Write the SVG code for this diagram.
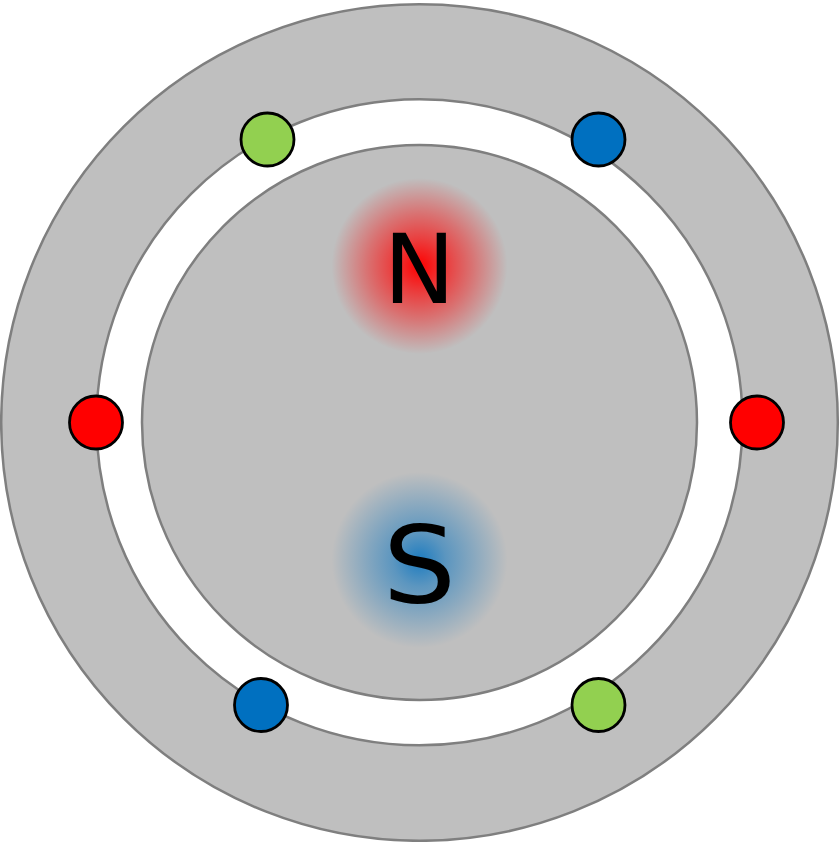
<svg xmlns="http://www.w3.org/2000/svg" width="840" height="842" viewBox="0 0 840 842">
<style>
.ring{fill:#bfbfbf;stroke:#7f7f7f;stroke-width:2.5}
.gap{fill:#fff;stroke:#7f7f7f;stroke-width:2.5}
.pin{stroke:#000;stroke-width:2.8}
.red{fill:#f00}.blue{fill:#0070c0}.green{fill:#92d050}
.lbl{font-family:"DejaVu Sans",sans-serif;fill:#000;text-anchor:middle}
</style>
<defs>
<radialGradient id="gn"><stop offset="0" stop-color="#f00"/><stop offset=".3" stop-color="#f00" stop-opacity=".68"/><stop offset=".6" stop-color="#f00" stop-opacity=".4"/><stop offset="1" stop-color="#f00" stop-opacity="0"/></radialGradient>
<radialGradient id="gs"><stop offset="0" stop-color="#0070c0" stop-opacity=".85"/><stop offset=".3" stop-color="#0070c0" stop-opacity=".52"/><stop offset=".6" stop-color="#0070c0" stop-opacity=".3"/><stop offset="1" stop-color="#0070c0" stop-opacity="0"/></radialGradient>
</defs>
<g id="stator"><circle class="ring" cx="419.500" cy="422.500" r="418.300"/></g>
<g id="airgap"><circle class="gap" cx="419.500" cy="422.300" r="323"/></g>
<g id="rotor"><circle class="ring" cx="419.500" cy="422.500" r="277.500"/></g>
<g id="north"><circle cx="419.500" cy="266" r="88" fill="url(#gn)"/><text class="lbl" x="419.500" y="303" font-size="96">N</text></g>
<g id="south"><circle cx="419.500" cy="560" r="88" fill="url(#gs)"/><text class="lbl" font-size="107" transform="translate(419.500 602) scale(1.08 1)">S</text></g>
<g id="pin-left"><circle class="pin red" cx="96" cy="422.500" r="26.500"/></g>
<g id="pin-right"><circle class="pin red" cx="757" cy="422.500" r="26.500"/></g>
<g id="pin-top-left"><circle class="pin green" cx="267.500" cy="139.500" r="26.500"/></g>
<g id="pin-top-right"><circle class="pin blue" cx="598.500" cy="139.500" r="26.500"/></g>
<g id="pin-bottom-left"><circle class="pin blue" cx="261" cy="705" r="26.500"/></g>
<g id="pin-bottom-right"><circle class="pin green" cx="598.500" cy="705" r="26.500"/></g>
</svg>
